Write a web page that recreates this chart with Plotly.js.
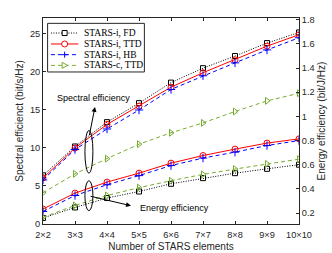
<!DOCTYPE html>
<html><head><meta charset="utf-8">
<script src="https://cdn.plot.ly/plotly-3.0.1.min.js"></script>
<style>html,body{margin:0;padding:0;background:#fff}#c{width:332px;height:253px}</style>
</head><body><div id="c"></div>
<script>
const categories = ["2×2","3×3","4×4","5×5","6×6","7×7","8×8","9×9","10×10"];
const seFD  = [6.4, 10.2, 13.4, 15.9, 18.6, 20.5, 22.1, 23.8, 25.2];
const seTTD = [6.05, 10.0, 13.1, 15.5, 18.0, 19.9, 21.6, 23.4, 24.9];
const seHB  = [5.8, 9.8, 12.5, 15.0, 17.7, 19.5, 21.2, 22.9, 24.5];
const seC   = [4.1, 6.6, 8.6, 10.5, 12.0, 13.3, 14.8, 16.2, 17.2];
const eeFD  = [0.159, 0.246, 0.324, 0.378, 0.442, 0.489, 0.53, 0.566, 0.60];
const eeTTD = [0.233, 0.365, 0.456, 0.53, 0.613, 0.676, 0.729, 0.779, 0.814];
const eeHB  = [0.213, 0.345, 0.434, 0.51, 0.593, 0.655, 0.704, 0.759, 0.80];
const eeC   = [0.164, 0.263, 0.345, 0.41, 0.467, 0.52, 0.564, 0.607, 0.646];
const names = ["STARS-i, FD","STARS-i, TTD","STARS-i, HB","STARS-c, TTD"];

const colors = ['#000000','#ff0000','#0000ff','#77ac30'];
const dashes = ['1px,1.5px','solid','4px,3px','4px,3px'];
const symbols = ['square-open','circle-open','cross-thin-open','triangle-right-open'];
const msizes = [5,6,6,6];

const seSets=[seFD,seTTD,seHB,seC], eeSets=[eeFD,eeTTD,eeHB,eeC];
const data=[];
function tr(y,i,ax){
  return {x:categories,y:y,mode:'lines+markers',name:names[i],yaxis:ax,showlegend:false,
    line:{color:colors[i],width:1,dash:dashes[i]},
    marker:{symbol:symbols[i],size:msizes[i],color:colors[i],line:{width:1,color:colors[i]}}};
}
for(let i=0;i<4;i++) data.push(tr(seSets[i],i,'y'));
for(let i=0;i<4;i++) data.push(tr(eeSets[i],i,'y2'));

const sans='Liberation Sans, Arial, sans-serif';
const tf={family:sans,size:9.2,color:'#262626'};
const ttf={family:sans,size:10,color:'#262626'};

// custom compact legend (paper coordinates)
const shapes=[
  {type:'circle',xref:'x',yref:'y',x0:1.31,x1:1.56,y0:6.7,y1:12.3,line:{color:'#000',width:1}},
  {type:'circle',xref:'x',yref:'y',x0:1.31,x1:1.56,y0:1.75,y1:5.7,line:{color:'#000',width:1}},
  {type:'rect',xref:'paper',yref:'paper',x0:0.018,x1:0.396,y0:0.738,y1:0.974,fillcolor:'#fff',line:{color:'#262626',width:1}}
];
const annotations=[];
const rowY=[0.927,0.874,0.822,0.770];
const lx0=0.031,lx1=0.138,lxm=0.0845;
for(let i=0;i<4;i++){
  const c=colors[i], y=rowY[i];
  shapes.push({type:'line',xref:'paper',yref:'paper',x0:lx0,x1:lx1,y0:y,y1:y,line:{color:c,width:1,dash:dashes[i]}});
  const base={xref:'paper',yref:'paper',xsizemode:'pixel',ysizemode:'pixel',xanchor:lxm,yanchor:y,line:{color:c,width:1},fillcolor:'#fff'};
  if(i===0) shapes.push(Object.assign({type:'rect',x0:-2.5,x1:2.5,y0:-2.5,y1:2.5},base));
  if(i===1) shapes.push(Object.assign({type:'circle',x0:-3,x1:3,y0:-3,y1:3},base));
  if(i===2){
    shapes.push(Object.assign({type:'line',x0:-3,x1:3,y0:0,y1:0},base));
    shapes.push(Object.assign({type:'line',x0:0,x1:0,y0:-3,y1:3},base));
  }
  if(i===3) shapes.push(Object.assign({type:'path',path:'M -2.5 3 L 3 0 L -2.5 -3 Z'},base));
  annotations.push({xref:'paper',yref:'paper',x:0.151,y:y,xanchor:'left',yanchor:'middle',showarrow:false,text:names[i],
    font:{family:'Liberation Serif, Times New Roman, serif',size:9.5,color:'#000'}});
}
annotations.push(
  {x:1.625,y:15.4,ax:1.44,ay:11.5,axref:'x',ayref:'y',xref:'x',yref:'y',showarrow:true,arrowhead:2,arrowsize:1,arrowwidth:1,arrowcolor:'#000',text:''},
  {x:2.75,y:2.4,ax:1.44,ay:3.7,axref:'x',ayref:'y',xref:'x',yref:'y',showarrow:true,arrowhead:2,arrowsize:1,arrowwidth:1,arrowcolor:'#000',text:''},
  {x:1.59,y:16.6,xref:'x',yref:'y',text:'Spectral efficiency',showarrow:false,font:{family:sans,size:9,color:'#000'}},
  {x:2.97,y:2.1,xref:'x',yref:'y',xanchor:'left',text:'Energy efficiency',showarrow:false,font:{family:sans,size:9,color:'#000'}}
);

const layout={
  width:332,height:253,margin:{l:43,r:33,t:18,b:29},
  paper_bgcolor:'#fff',plot_bgcolor:'#fff',font:tf,showlegend:false,
  xaxis:{type:'category',range:[0,8],showline:true,linecolor:'#262626',linewidth:1,mirror:'ticks',ticks:'inside',ticklen:3,tickcolor:'#262626',showgrid:false,zeroline:false,tickfont:tf,ticklabelstandoff:2,
    title:{text:'Number of STARS elements',font:ttf,standoff:3}},
  yaxis:{range:[0,27.1],tickvals:[0,5,10,15,20,25],showline:true,linecolor:'#262626',linewidth:1,ticks:'inside',ticklen:3,tickcolor:'#262626',showgrid:false,zeroline:false,tickfont:tf,
    title:{text:'Spectral efficienct (bit/s/Hz)',font:ttf,standoff:4}},
  yaxis2:{overlaying:'y',side:'right',range:[0.109,1.815],tickvals:[0.2,0.4,0.6,0.8,1,1.2,1.4,1.6,1.8],ticktext:['0.2','0.4','0.6','0.8','1','1.2','1.4','1.6','1.8'],showline:true,linecolor:'#262626',linewidth:1,ticks:'inside',ticklen:3,tickcolor:'#262626',showgrid:false,zeroline:false,tickfont:tf,
    title:{text:'Energy efficiency (bit/J/Hz)',font:ttf,standoff:4}},
  shapes:shapes,annotations:annotations
};
Plotly.newPlot('c',data,layout,{displayModeBar:false,staticPlot:true});
</script></body></html>
